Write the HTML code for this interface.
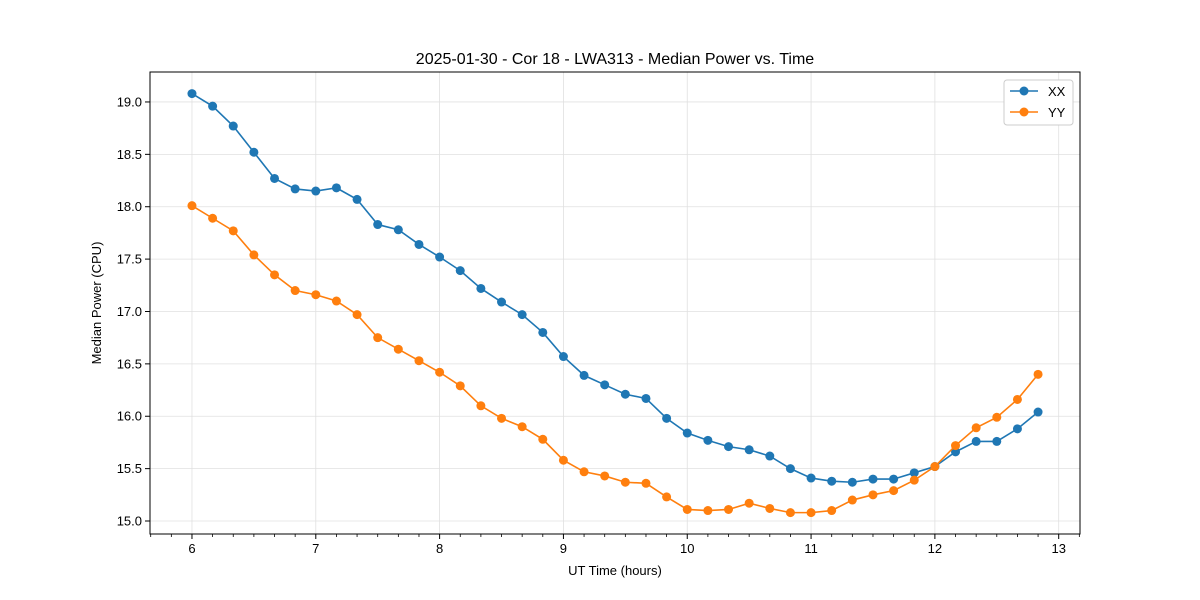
<!DOCTYPE html>
<html><head><meta charset="utf-8"><style>
body{margin:0;background:#fff;}
svg{display:block;font-family:"Liberation Sans","DejaVu Sans",sans-serif;}
</style></head><body>
<svg id="chart" width="1200" height="600"></svg>
<script>
const times = [];
for (let i = 0; i < 42; i++) times.push(6 + i / 6);
const xxValues = [19.08,18.96,18.77,18.52,18.27,18.17,18.15,18.18,18.07,17.83,17.78,17.64,17.52,17.39,17.22,17.09,16.97,16.80,16.57,16.39,16.30,16.21,16.17,15.98,15.84,15.77,15.71,15.68,15.62,15.50,15.41,15.38,15.37,15.40,15.40,15.46,15.52,15.66,15.76,15.76,15.88,16.04];
const yyValues = [18.01,17.89,17.77,17.54,17.35,17.20,17.16,17.10,16.97,16.75,16.64,16.53,16.42,16.29,16.10,15.98,15.90,15.78,15.58,15.47,15.43,15.37,15.36,15.23,15.11,15.10,15.11,15.17,15.12,15.08,15.08,15.10,15.20,15.25,15.29,15.39,15.52,15.72,15.89,15.99,16.16,16.40];
const xTickLabels = [6,7,8,9,10,11,12,13];
const yTickLabels = [15.0,15.5,16.0,16.5,17.0,17.5,18.0,18.5,19.0];

const L=150,R=1080,T=72,B=534;
const xMin=5.661,xMax=13.172,yMin=14.876,yMax=19.286;
const sx=v=>L+(v-xMin)/(xMax-xMin)*(R-L);
const sy=v=>B-(v-yMin)/(yMax-yMin)*(B-T);
const svg=document.getElementById('chart');
const NS='http://www.w3.org/2000/svg';
function mk(tag,attrs,parent){const e=document.createElementNS(NS,tag);for(const k in attrs)e.setAttribute(k,attrs[k]);(parent||svg).appendChild(e);return e;}

xTickLabels.forEach(t=>{const g=mk('line',{x1:sx(t),x2:sx(t),y1:T,y2:B,stroke:'#e0e0e0','stroke-width':0.8});

});
yTickLabels.forEach(t=>{const g=mk('line',{x1:L,x2:R,y1:sy(t),y2:sy(t),stroke:'#e0e0e0','stroke-width':0.8});

});

const fr=mk('rect',{x:L,y:T,width:R-L,height:B-T,fill:'none',stroke:'#000','stroke-width':1});



xTickLabels.forEach(t=>{
  mk('line',{x1:sx(t),x2:sx(t),y1:B,y2:B+5,stroke:'#000'});
  const tx=mk('text',{x:sx(t),y:B+19,'text-anchor':'middle','font-size':13});
  tx.textContent=t;
  
  
});
for(let m=Math.ceil(xMin*6);m<=Math.floor(xMax*6);m++){
  if(m%6===0)continue;
  mk('line',{x1:sx(m/6),x2:sx(m/6),y1:B,y2:B+3,stroke:'#000','stroke-width':0.8});
}
yTickLabels.forEach(t=>{
  mk('line',{x1:L-5,x2:L,y1:sy(t),y2:sy(t),stroke:'#000'});
  const tx=mk('text',{x:L-8,y:sy(t)+4.5,'text-anchor':'end','font-size':13});
  tx.textContent=t.toFixed(1);
  
  
});

const ti=mk('text',{x:615,y:64,'text-anchor':'middle','font-size':16});
ti.textContent='2025-01-30 - Cor 18 - LWA313 - Median Power vs. Time';


const xl=mk('text',{x:615,y:575,'text-anchor':'middle','font-size':13});
xl.textContent='UT Time (hours)';


const yl=mk('text',{x:101,y:303,'text-anchor':'middle','font-size':13,transform:'rotate(-90 101 303)'});
yl.textContent='Median Power (CPU)';



function series(vals,color,name){
  const g=mk('g',{});
  
  
  mk('polyline',{points:vals.map((v,i)=>sx(times[i])+','+sy(v)).join(' '),fill:'none',stroke:color,'stroke-width':1.6},g);
  vals.forEach((v,i)=>{const c=mk('circle',{cx:sx(times[i]),cy:sy(v),r:4.5,fill:color},g);
    
    });
}
series(xxValues,'#1f77b4','series-xx');
series(yyValues,'#ff7f0e','series-yy');

const lg=mk('g',{});


mk('rect',{x:1004,y:80,width:69,height:45,rx:3,fill:'#fff',stroke:'#ccc'},lg);
[['XX','#1f77b4',91],['YY','#ff7f0e',112]].forEach(([n,c,y])=>{
  const e=mk('g',{},lg);
  
  
  mk('line',{x1:1010,x2:1038,y1:y,y2:y,stroke:c,'stroke-width':1.6},e);
  mk('circle',{cx:1024,cy:y,r:4.5,fill:c},e);
  const t=mk('text',{x:1048,y:y+5,'font-size':13},e);t.textContent=n;
});
</script>
</body></html>
